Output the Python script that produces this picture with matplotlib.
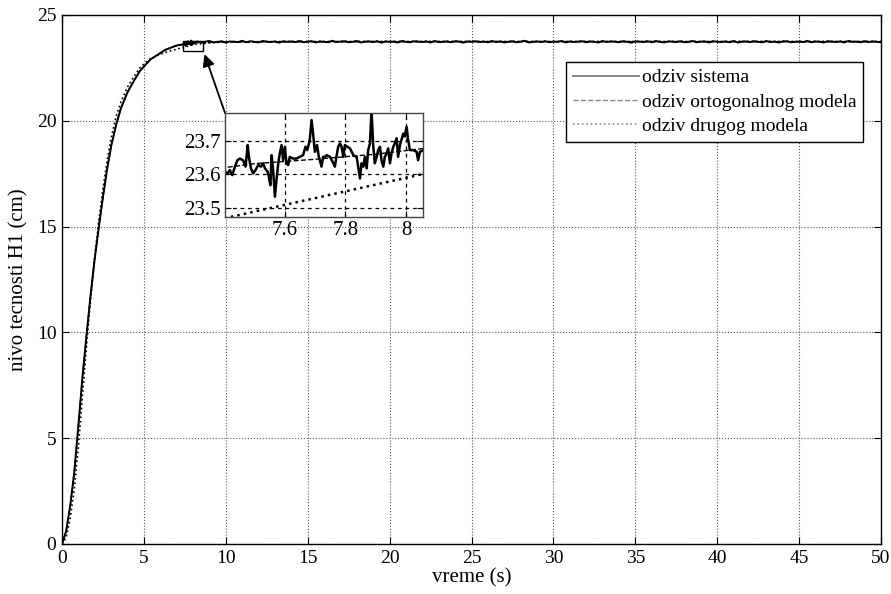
import numpy as np
import matplotlib
matplotlib.use("Agg")
import matplotlib.pyplot as plt
from matplotlib.patches import Rectangle

plt.rcParams['font.family'] = ['Liberation Serif', 'DejaVu Serif']

# --- data ---
# rising part of the system response (s, cm)
rise_t = [0, 0.25, 0.5, 0.75, 1.0, 1.25, 1.5, 1.75, 2.0, 2.25, 2.5, 2.75,
          3.0, 3.3, 3.6, 4.0, 4.4, 4.75, 5.1, 5.4, 5.8, 6.3, 6.8, 7.0]
rise_y = [0, 0.6, 1.8, 3.4, 5.6, 7.9, 9.9, 11.8, 13.5, 15.0, 16.4, 17.7,
          18.8, 19.8, 20.6, 21.35, 21.9, 22.35, 22.65, 22.9, 23.1, 23.35, 23.5, 23.56]

# measured response inside the zoom window
zoom_t = [7.402, 7.411, 7.418, 7.426, 7.435, 7.443, 7.451, 7.462, 7.470, 7.477,
          7.481, 7.488, 7.495, 7.503, 7.512, 7.521, 7.528, 7.534, 7.543, 7.547,
          7.552, 7.556, 7.561, 7.567, 7.572, 7.578, 7.583, 7.589, 7.594, 7.600,
          7.605, 7.611, 7.616, 7.627, 7.638, 7.649, 7.660, 7.668, 7.674, 7.682,
          7.688, 7.693, 7.699, 7.706, 7.712, 7.721, 7.726, 7.732, 7.738, 7.749,
          7.760, 7.765, 7.771, 7.776, 7.782, 7.787, 7.793, 7.798, 7.806, 7.815,
          7.826, 7.837, 7.842, 7.848, 7.853, 7.859, 7.864, 7.870, 7.875, 7.881,
          7.886, 7.892, 7.897, 7.903, 7.908, 7.914, 7.919, 7.925, 7.930, 7.936,
          7.941, 7.947, 7.952, 7.958, 7.963, 7.969, 7.974, 7.980, 7.985, 7.991,
          7.996, 8.002, 8.007, 8.013, 8.024, 8.035, 8.040, 8.046]
zoom_y = [23.608, 23.603, 23.613, 23.598, 23.623, 23.642, 23.647, 23.642, 23.623, 23.687,
          23.652, 23.618, 23.603, 23.613, 23.628, 23.623, 23.633, 23.618, 23.608, 23.593,
          23.568, 23.657, 23.613, 23.534, 23.583, 23.633, 23.662, 23.687, 23.642, 23.682,
          23.633, 23.628, 23.652, 23.647, 23.647, 23.652, 23.657, 23.682, 23.672, 23.702,
          23.761, 23.721, 23.667, 23.687, 23.652, 23.623, 23.652, 23.652, 23.657, 23.652,
          23.633, 23.623, 23.657, 23.682, 23.692, 23.682, 23.652, 23.687, 23.682, 23.677,
          23.657, 23.652, 23.623, 23.588, 23.633, 23.623, 23.652, 23.618, 23.672, 23.692,
          23.790, 23.682, 23.633, 23.652, 23.672, 23.682, 23.642, 23.623, 23.652, 23.662,
          23.677, 23.633, 23.662, 23.682, 23.692, 23.707, 23.652, 23.687, 23.702, 23.721,
          23.712, 23.741, 23.702, 23.672, 23.672, 23.667, 23.642, 23.667]

# steady-state measured response, one reading every 0.25 s from 8.25 s to 50 s
steady_y = [23.75, 23.70, 23.74, 23.77, 23.71, 23.73, 23.76, 23.69, 23.75, 23.74, 23.72, 23.78,
            23.71, 23.76, 23.73, 23.70, 23.77, 23.74, 23.72, 23.75, 23.69, 23.76, 23.73, 23.75,
            23.72, 23.77, 23.71, 23.74, 23.76, 23.70, 23.75, 23.73, 23.71, 23.78, 23.72, 23.74,
            23.76, 23.71, 23.73, 23.77, 23.70, 23.74, 23.75, 23.72, 23.76, 23.69, 23.75, 23.73,
            23.74, 23.70, 23.77, 23.73, 23.71, 23.76, 23.74, 23.72, 23.75, 23.70, 23.77, 23.72,
            23.73, 23.75, 23.71, 23.76, 23.74, 23.69, 23.75, 23.73, 23.76, 23.72, 23.74, 23.71,
            23.77, 23.72, 23.75, 23.70, 23.73, 23.76, 23.71, 23.74, 23.78, 23.70, 23.73, 23.75,
            23.72, 23.76, 23.71, 23.74, 23.73, 23.77, 23.70, 23.75, 23.72, 23.74, 23.76, 23.71,
            23.75, 23.73, 23.70, 23.77, 23.72, 23.75, 23.74, 23.71, 23.76, 23.73, 23.69, 23.75,
            23.74, 23.72, 23.76, 23.71, 23.77, 23.73, 23.70, 23.75, 23.74, 23.72, 23.76, 23.71,
            23.73, 23.77, 23.71, 23.74, 23.75, 23.70, 23.76, 23.73, 23.72, 23.75, 23.71, 23.77,
            23.70, 23.74, 23.75, 23.72, 23.76, 23.73, 23.71, 23.77, 23.72, 23.74, 23.70, 23.75,
            23.76, 23.71, 23.73, 23.74, 23.72, 23.77, 23.71, 23.75, 23.73, 23.70, 23.76, 23.74,
            23.72, 23.75, 23.70, 23.77, 23.73, 23.74, 23.71, 23.76, 23.72, 23.75, 23.73, 23.71]
steady_t = np.arange(len(steady_y)) * 0.25 + 8.25

# orthogonal model response
orto_t = [0, 0.25, 0.5, 0.75, 1.0, 1.25, 1.5, 1.75, 2.0, 2.25, 2.5, 2.75,
          3.0, 3.3, 3.6, 4.0, 4.4, 4.75, 5.1, 5.4, 5.8, 6.3, 6.8, 7.4,
          7.5, 7.7, 7.9, 8.05, 9, 10, 12, 15, 20, 50]
orto_y = [0, 0.6, 1.8, 3.4, 5.6, 7.9, 9.9, 11.8, 13.5, 15.0, 16.4, 17.7,
          18.8, 19.8, 20.6, 21.35, 21.9, 22.35, 22.65, 22.9, 23.1, 23.35, 23.5, 23.62,
          23.632, 23.645, 23.66, 23.676, 23.70, 23.72, 23.73, 23.735, 23.74, 23.74]

# second model response
drugi_t = [0, 0.25, 0.5, 0.75, 1.0, 1.25, 1.5, 1.75, 2.0, 2.25, 2.5, 2.75,
           3.0, 3.3, 3.6, 4.0, 4.4, 4.75, 5.1, 5.4, 5.8, 6.3, 6.8, 7.4,
           7.6, 7.8, 8.05, 9, 10, 12, 15, 20, 30, 50]
drugi_y = [0, 0.3, 1.2, 2.6, 4.6, 7.0, 9.4, 11.6, 13.6, 15.3, 16.8, 18.1,
           19.2, 20.2, 20.9, 21.6, 22.1, 22.5, 22.75, 22.93, 23.08, 23.23, 23.34, 23.47,
           23.51, 23.55, 23.60, 23.68, 23.72, 23.74, 23.75, 23.75, 23.75, 23.75]

labels = ['odziv sistema', 'odziv ortogonalnog modela', 'odziv drugog modela']

sys_t = np.concatenate([rise_t, zoom_t, steady_t])
sys_y = np.concatenate([rise_y, zoom_y, steady_y])

fig = plt.figure(figsize=(8.91, 5.94), dpi=100)
ax = fig.add_axes([0.0696, 0.0842, 0.9192, 0.8906])

ax.plot(sys_t, sys_y, '-', color='black', lw=1.4, label=labels[0])
ax.plot(orto_t, orto_y, '--', color='black', lw=1.0, label=labels[1])
ax.plot(drugi_t, drugi_y, ':', color='black', lw=1.2, label=labels[2])

ax.set_xlim(0, 50)
ax.set_ylim(0, 25)
ax.set_xticks(np.arange(0, 51, 5))
ax.set_yticks(np.arange(0, 26, 5))
ax.grid(True, linestyle=':', color='#555555', lw=0.8)
ax.tick_params(direction='in', top=True, right=True, labelsize=14, length=5, pad=4)
ax.set_xlabel('vreme (s)', fontsize=15, labelpad=1)
ax.set_ylabel('nivo tecnosti H1 (cm)', fontsize=15, labelpad=6)
for sp in ax.spines.values():
    sp.set_linewidth(1.0)

leg = ax.legend(loc='upper right', bbox_to_anchor=(0.978, 0.911), borderaxespad=0,
                fancybox=False, edgecolor='black', framealpha=1, fontsize=14,
                handlelength=3.4, handletextpad=0.15, borderpad=0.35, labelspacing=0.35)
leg.get_frame().set_linewidth(1.0)
for ln in leg.get_lines():
    ln.set_color('#888888')

# zoom marker and arrow
ax.add_patch(Rectangle((7.4, 23.3), 1.2, 0.47, fill=False, ec='black', lw=1.0, zorder=5))
ax.annotate('', xy=(8.7, 23.15), xytext=(9.95, 20.37),
            arrowprops=dict(arrowstyle='-|>', color='black', lw=1.3,
                            mutation_scale=18, shrinkA=0, shrinkB=0))

# inset
ins = fig.add_axes([0.2525, 0.6347, 0.2222, 0.1751])
ins.plot(sys_t, sys_y, '-', color='black', lw=1.8)
ins.plot(orto_t, orto_y, '--', color='black', lw=1.0)
ins.plot(drugi_t, drugi_y, ':', color='black', lw=1.8)
ins.set_xlim(7.402, 8.056)
ins.set_ylim(23.474, 23.782)
ins.set_xticks([7.6, 7.8, 8.0])
ins.set_xticklabels(['7.6', '7.8', '8'])
ins.set_yticks([23.5, 23.6, 23.7])
ins.grid(True, linestyle='--', color='black', lw=0.9, dashes=(3, 3))
ins.tick_params(direction='in', top=True, right=True, labelsize=15, length=4, pad=3)
for sp in ins.spines.values():
    sp.set_linewidth(1.0)
    sp.set_color('#444444')

fig.savefig('out.png', dpi=100)
